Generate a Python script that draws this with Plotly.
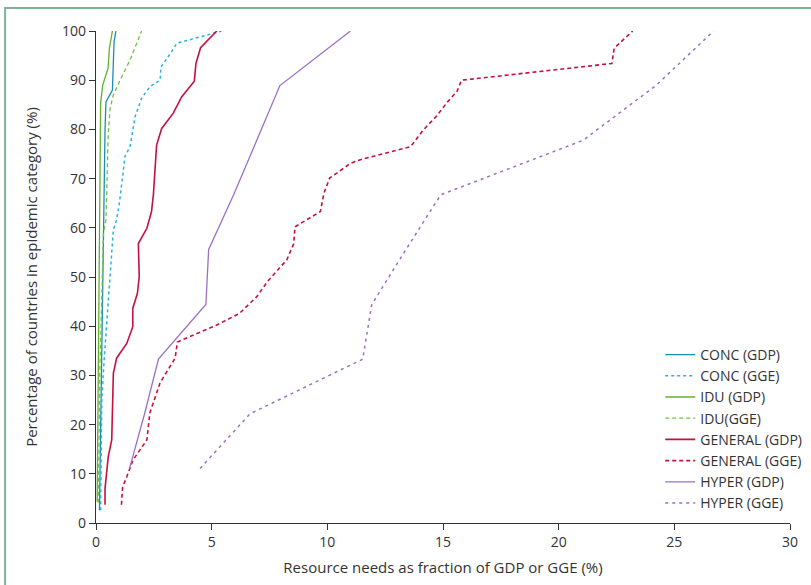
import plotly.graph_objects as go

# ---- data ----
conc_gdp_x = [0.15, 0.2, 0.25, 0.3, 0.32, 0.36, 0.39, 0.43, 0.71, 0.78, 0.86]
conc_gdp_y = [2.6, 20, 40, 55, 62.9, 72, 79.9, 85.6, 88, 97.8, 100]

conc_gge_x = [0.2, 0.25, 0.35, 0.43, 0.53, 0.61, 0.75, 0.89, 1.01, 1.15, 1.25, 1.47, 1.69, 1.97, 2.33, 2.77, 2.81, 3.27, 3.49, 5.43]
conc_gge_y = [2.6, 25, 33.1, 38.6, 45.3, 52.1, 59.6, 61.6, 65, 70.4, 74.5, 76.5, 82.6, 86.3, 88.7, 90, 92.7, 95.8, 97.5, 100]

idu_gdp_x = [0.05, 0.1, 0.14, 0.17, 0.2, 0.29, 0.52, 0.58, 0.71]
idu_gdp_y = [4.3, 30, 50, 61.6, 85.3, 89, 92.4, 96.5, 100]

idu_gge_x = [0.1, 0.17, 0.25, 0.32, 0.43, 0.53, 0.61, 0.75, 1.04, 1.47, 1.97]
idu_gge_y = [4.1, 31.8, 45.3, 58.9, 61.6, 79.2, 84.3, 87, 90, 94.1, 100]

gen_gdp_x = [0.39, 0.39, 0.53, 0.68, 0.75, 0.89, 1.33, 1.59, 1.59, 1.79, 1.87, 1.83, 2.2, 2.4, 2.48, 2.62, 2.84, 3.34, 3.7, 4.25, 4.32, 4.52, 5.22]
gen_gdp_y = [3.7, 7.0, 13.5, 16.9, 30.4, 33.5, 36.5, 39.9, 43.6, 46.7, 50.1, 56.8, 59.9, 63.3, 66.7, 76.8, 80.2, 83.3, 86.6, 89.8, 93.4, 96.6, 100]

gen_gge_x = [1.1, 1.15, 1.33, 1.6, 2.2, 2.33, 2.77, 3.42, 3.52, 4.2, 5.2, 6.2, 6.95, 7.4, 7.8, 8.25, 8.55, 8.6, 9.7, 9.85, 10.1, 11.0, 11.4, 13.6, 14.15, 14.7, 15.2, 15.6, 15.8, 22.3, 22.4, 23.2]
gen_gge_y = [3.7, 7.3, 9.4, 12.8, 16.9, 22.4, 28.5, 33.5, 36.8, 38.2, 40.2, 42.6, 46, 49, 51.1, 53.5, 56.8, 60.2, 63.3, 67, 70.1, 73.1, 73.8, 76.5, 79.9, 82.6, 85.6, 87.7, 90, 93.4, 96.5, 100]

hyp_gdp_x = [1.45, 2.1, 2.7, 4.75, 4.87, 5.95, 6.95, 7.95, 11.0]
hyp_gdp_y = [11.1, 22.2, 33.3, 44.4, 55.6, 66.7, 77.8, 88.9, 100]

hyp_gge_x = [4.5, 6.66, 11.53, 11.92, 13.4, 14.9, 21.06, 24.2, 26.7]
hyp_gge_y = [11.1, 22.2, 33.3, 44.4, 55.6, 66.7, 77.8, 88.9, 100]

x_ticks = [0, 5, 10, 15, 20, 25, 30]
y_ticks = [0, 10, 20, 30, 40, 50, 60, 70, 80, 90, 100]

series = [
    ("CONC (GDP)", conc_gdp_x, conc_gdp_y, "#1b8db4", "solid", 1.3),
    ("CONC (GGE)", conc_gge_x, conc_gge_y, "#27b3df", "3px,3px", 1.5),
    ("IDU (GDP)", idu_gdp_x, idu_gdp_y, "#62b02d", "solid", 1.3),
    ("IDU(GGE)", idu_gge_x, idu_gge_y, "#72c043", "4px,3px", 1.3),
    ("GENERAL (GDP)", gen_gdp_x, gen_gdp_y, "#c8103f", "solid", 1.6),
    ("GENERAL (GGE)", gen_gge_x, gen_gge_y, "#c8103f", "4px,3px", 1.6),
    ("HYPER (GDP)", hyp_gdp_x, hyp_gdp_y, "#9a70c6", "solid", 1.3),
    ("HYPER (GGE)", hyp_gge_x, hyp_gge_y, "#9a70c6", "3px,4px", 1.5),
]

fig = go.Figure()
for name, xs, ys, col, dash, w in series:
    fig.add_trace(go.Scatter(x=xs, y=ys, mode="lines", name=name,
                             line=dict(color=col, dash=dash, width=w)))

axis_common = dict(showgrid=False, zeroline=False, showline=True, linecolor="#333333",
                   linewidth=1.3, ticks="outside", ticklen=6, tickcolor="#333333",
                   tickfont=dict(size=14, color="#333333"), automargin=False)

fig.update_layout(
    width=811, height=585,
    margin=dict(l=96, r=21, t=31, b=62, autoexpand=False),
    paper_bgcolor="white", plot_bgcolor="white",
    font=dict(family="Open Sans", size=14, color="#333333"),
    showlegend=True,
    legend=dict(x=0.813, y=0.374, xanchor="left", yanchor="top",
                bgcolor="rgba(0,0,0,0)", font=dict(size=14, color="#333333"),
                itemwidth=30, tracegroupgap=0),
    xaxis=dict(range=[0, 30], tickvals=x_ticks,
               title=dict(text="Resource needs as fraction of GDP or GGE (%)", standoff=12,
                          font=dict(size=15)),
               **axis_common),
    yaxis=dict(range=[0, 100], tickvals=y_ticks,
               title=dict(text="Percentage of countries in epidemic category (%)", standoff=20,
                          font=dict(size=15)),
               **axis_common),
)

fig.add_shape(type="rect", xref="paper", yref="paper",
              x0=-0.131, x1=1.05, y0=-0.15, y1=1.0467,
              line=dict(color="#7fb39a", width=2), fillcolor="rgba(0,0,0,0)", layer="below")

fig.write_html("out.html", config={"displayModeBar": False},
               post_script="document.body.style.margin='0';")
